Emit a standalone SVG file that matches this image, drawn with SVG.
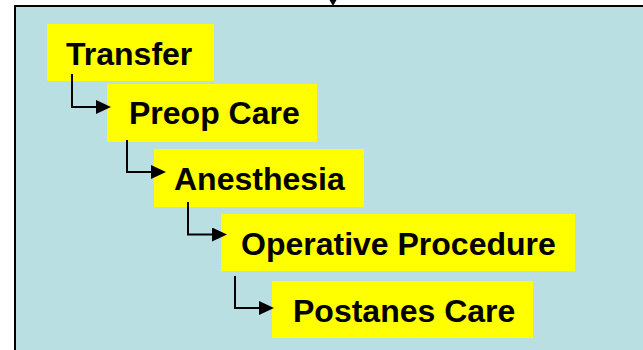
<svg xmlns="http://www.w3.org/2000/svg" width="643" height="350" viewBox="0 0 643 350">
  <style>
    .box { fill: #FFFF00; }
    .lbl { font-family: "Liberation Sans", Arial, sans-serif; font-weight: bold; font-size: 32px; fill: #000; }
    .conn { fill: none; stroke: #000; stroke-width: 2; }
  </style>
  <defs>
    <marker id="arr" markerUnits="userSpaceOnUse" markerWidth="16" markerHeight="15" refX="7" refY="7" orient="auto">
      <path d="M0,0 L15,7 L0,14 z" fill="#000"/>
    </marker>
  </defs>
  <rect x="0" y="0" width="643" height="350" fill="#FFFFFF"/>
  <rect id="frame" x="15" y="6" width="640" height="360" fill="#B9DFE3" stroke="#000" stroke-width="2"/>
  <polygon points="329.5,0 336.5,0 333,6" fill="#000"/>

  <g id="transfer">
    <rect class="box" x="47" y="24" width="167" height="57"/>
    <text class="lbl" x="66" y="65">Transfer</text>
  </g>
  <g id="preop">
    <rect class="box" x="107" y="84" width="210" height="58"/>
    <text class="lbl" x="129" y="124">Preop Care</text>
  </g>
  <g id="anesthesia">
    <rect class="box" x="154" y="149" width="210" height="58"/>
    <text class="lbl" x="174" y="190">Anesthesia</text>
  </g>
  <g id="operative">
    <rect class="box" x="221" y="214" width="354" height="57"/>
    <text class="lbl" x="241" y="255">Operative Procedure</text>
  </g>
  <g id="postanes">
    <rect class="box" x="272" y="281" width="261" height="57"/>
    <text class="lbl" x="293" y="322">Postanes Care</text>
  </g>

  <g id="connectors">
    <path class="conn" d="M72,74 V107 H103" marker-end="url(#arr)"/>
    <path class="conn" d="M127,140 V172 H158" marker-end="url(#arr)"/>
    <path class="conn" d="M188,202 V234.5 H219" marker-end="url(#arr)"/>
    <path class="conn" d="M235,276 V308 H266" marker-end="url(#arr)"/>
  </g>
</svg>
